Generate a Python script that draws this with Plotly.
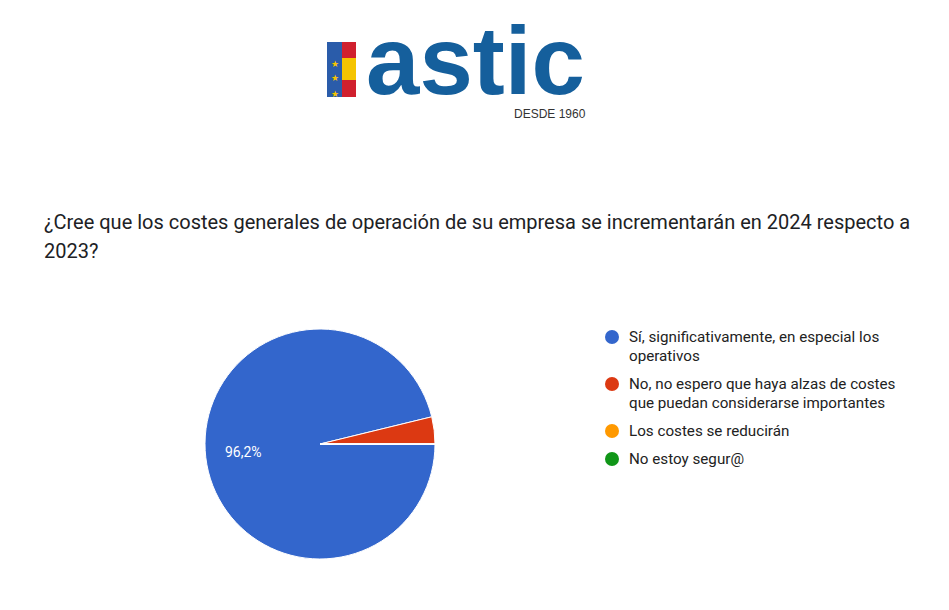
import plotly.graph_objects as go

labels = ["Sí, significativamente, en especial los operativos",
          "No, no espero que haya alzas de costes que puedan considerarse importantes",
          "Los costes se reducirán",
          "No estoy segur@"]
legend_lines = [["Sí, significativamente, en especial los", "operativos"],
                ["No, no espero que haya alzas de costes", "que puedan considerarse importantes"],
                ["Los costes se reducirán"],
                ["No estoy segur@"]]
values = [96.2, 3.8, 0, 0]
slice_text = ["96,2%", "", "", ""]
colors = ["#3366cc", "#dc3912", "#ff9900", "#109618"]
title_lines = ["¿Cree que los costes generales de operación de su empresa se incrementarán en 2024 respecto a",
               "2023?"]

W, H = 941, 602
def px(x): return (x - 8) / W
def py(y): return 1 - (y - 8) / H

fig = go.Figure(go.Pie(
    labels=labels, values=values, textinfo="none",
    marker=dict(colors=colors, line=dict(color="white", width=1)),
    sort=False, direction="clockwise", rotation=90, showlegend=False,
    hoverinfo="label+percent",
    domain=dict(x=[px(205), px(435)], y=[py(559), py(329)]),
))

ann = []
shapes = []
ann.append(dict(x=px(243), y=py(452), xref="paper", yref="paper", text=slice_text[0],
                showarrow=False, xanchor="center", yanchor="middle",
                font=dict(size=14, family="Roboto", color="white")))
for i, line in enumerate(title_lines):
    ann.append(dict(x=px(42), y=py(222 + 29 * i), xref="paper", yref="paper", text=line,
                    showarrow=False, xanchor="left", yanchor="middle",
                    font=dict(size=20, family="Roboto", color="#202124")))

y = 337
for lines, c in zip(legend_lines, colors):
    shapes.append(dict(type="circle", xref="paper", yref="paper",
                       x0=px(605), x1=px(619), y0=py(y + 7), y1=py(y - 7),
                       fillcolor=c, line=dict(width=0)))
    for j, t in enumerate(lines):
        ann.append(dict(x=px(627), y=py(y + 19 * j), xref="paper", yref="paper", text=t,
                        showarrow=False, xanchor="left", yanchor="middle",
                        font=dict(size=15.2, family="Roboto", color="#222222")))
    y += 19 * len(lines) + 9

# logo
shapes += [
    dict(type="rect", xref="paper", yref="paper", x0=px(327), x1=px(342), y0=py(97), y1=py(42),
         fillcolor="#2a5caa", line=dict(width=0)),
    dict(type="rect", xref="paper", yref="paper", x0=px(342), x1=px(356), y0=py(58), y1=py(42),
         fillcolor="#d0202e", line=dict(width=0)),
    dict(type="rect", xref="paper", yref="paper", x0=px(342), x1=px(356), y0=py(80), y1=py(58),
         fillcolor="#f5c400", line=dict(width=0)),
    dict(type="rect", xref="paper", yref="paper", x0=px(342), x1=px(356), y0=py(97), y1=py(80),
         fillcolor="#d0202e", line=dict(width=0)),
]
for sy in [55, 69, 85]:
    ann.append(dict(x=px(335), y=py(sy), xref="paper", yref="paper", text="★", showarrow=False,
                    font=dict(size=9, color="#f5c400")))
ann.append(dict(x=px(475), y=py(61), xref="paper", yref="paper", text="<b>astic</b>", showarrow=False,
                xanchor="center", yanchor="middle",
                font=dict(size=96, family="Liberation Sans", color="#155f9c")))
ann.append(dict(x=px(588), y=py(114), xref="paper", yref="paper", text="DESDE 1960", showarrow=False,
                xanchor="right", yanchor="middle",
                font=dict(size=12, family="Liberation Sans Narrow, Liberation Sans", color="#333333")))

fig.update_layout(width=W, height=H, margin=dict(l=0, r=0, t=0, b=0),
                  paper_bgcolor="white", annotations=ann, shapes=shapes)
fig.write_html("out.html")
